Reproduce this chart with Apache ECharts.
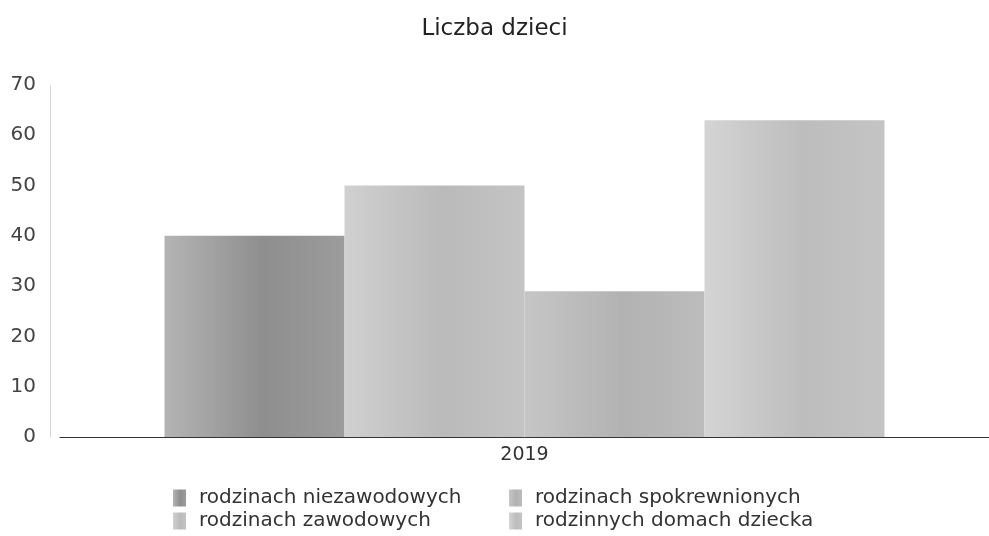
<!DOCTYPE html>
<html>
<head>
<meta charset="utf-8">
<script src="https://cdn.jsdelivr.net/npm/echarts@6/dist/echarts.min.js"></script>
<style>
  html, body { margin: 0; padding: 0; background: #fff; }
  #chart { width: 989px; height: 536px; }
</style>
</head>
<body>
<div id="chart"></div>
<script>
  const categories = ['2019'];
  const seriesNames = [
    'rodzinach niezawodowych',
    'rodzinach zawodowych',
    'rodzinach spokrewnionych',
    'rodzinnych domach dziecka',
  ];
  const seriesValues = [[40], [50], [29], [63]];
  const yTicks = [0, 10, 20, 30, 40, 50, 60, 70];

  // scan-like grey shading per bar: [edge, middle, edge]
  const shades = [
    ['#b4b4b4', '#8e8e8e', '#9c9c9c'],
    ['#d0d0d0', '#bababa', '#c4c4c4'],
    ['#c6c6c6', '#b2b2b2', '#bcbcbc'],
    ['#d4d4d4', '#bdbdbd', '#c4c4c4'],
  ];
  const font = 'DejaVu Sans';
  const legendText = { fontFamily: font, fontSize: 20, lineHeight: 20, color: '#333', padding: [0, 0, 0, 8] };

  function legendBlock(names, left) {
    return {
      data: names,
      orient: 'vertical',
      left: left,
      top: 488,
      height: 48,
      padding: 0,
      itemGap: 3,
      itemWidth: 13,
      itemHeight: 17,
      icon: 'rect',
      textStyle: legendText,
    };
  }

  const myChart = echarts.init(document.getElementById('chart'));
  myChart.setOption({
    animation: false,
    textStyle: { fontFamily: font },
    title: {
      text: 'Liczba dzieci',
      left: 'center',
      top: 13,
      textStyle: { fontFamily: font, fontSize: 23, fontWeight: 'normal', color: '#222' },
    },
    grid: {
      top: 85,
      left: 60,
      right: 0,
      bottom: 99,
    },
    legend: [
      legendBlock([seriesNames[0], seriesNames[1]], 173),
      legendBlock([seriesNames[2], seriesNames[3]], 509),
    ],
    xAxis: {
      type: 'category',
      data: categories,
      axisTick: { show: false },
      axisLine: { lineStyle: { color: '#333', width: 1 } },
      axisLabel: { fontFamily: font, fontSize: 19, color: '#333', margin: 9 },
    },
    yAxis: {
      type: 'value',
      min: 0,
      max: 70,
      interval: 10,
      offset: 10,
      axisLine: { show: true, lineStyle: { color: '#ccc', type: 'dotted' } },
      axisTick: { show: false },
      splitLine: { show: false },
      axisLabel: {
        fontFamily: font,
        fontSize: 20,
        color: '#444',
        margin: 14,
        formatter: (v) => (yTicks.includes(v) ? String(v) : ''),
      },
    },
    series: seriesNames.map((name, i) => ({
      name: name,
      type: 'bar',
      data: seriesValues[i],
      barGap: '0%',
      barCategoryGap: '22.5%',
      itemStyle: {
        color: new echarts.graphic.LinearGradient(0, 0, 1, 0, [
          { offset: 0, color: shades[i][0] },
          { offset: 0.55, color: shades[i][1] },
          { offset: 1, color: shades[i][2] },
        ]),
      },
    })),
  });
</script>
</body>
</html>
